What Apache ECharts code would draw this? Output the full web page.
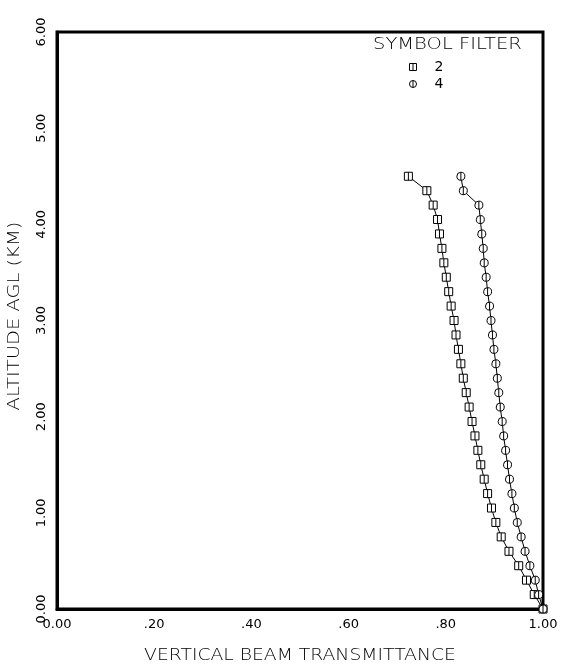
<!DOCTYPE html>
<html>
<head>
<meta charset="utf-8">
<script src="https://cdn.jsdelivr.net/npm/echarts@6/dist/echarts.min.js"></script>
<style>
html,body{margin:0;padding:0;background:#fff;}
#c{width:568px;height:666px;}
</style>
</head>
<body>
<div id="c"></div>
<script>
// Altitude levels (km), top to bottom
var altitudes = [4.5,4.35,4.2,4.05,3.9,3.75,3.6,3.45,3.3,3.15,3.0,2.85,2.7,2.55,2.4,2.25,2.1,1.95,1.8,1.65,1.5,1.35,1.2,1.05,0.9,0.75,0.6,0.45,0.3,0.15,0];
// Vertical beam transmittance, filter 2 (squares)
var filter2 = [0.723,0.761,0.774,0.783,0.787,0.792,0.796,0.801,0.806,0.811,0.817,0.821,0.826,0.831,0.836,0.842,0.848,0.854,0.860,0.866,0.872,0.879,0.886,0.894,0.903,0.914,0.930,0.950,0.966,0.982,1.0];
// Vertical beam transmittance, filter 4 (circles)
var filter4 = [0.831,0.836,0.868,0.871,0.874,0.877,0.879,0.883,0.886,0.890,0.893,0.896,0.899,0.903,0.906,0.909,0.912,0.916,0.919,0.923,0.927,0.931,0.936,0.941,0.947,0.955,0.963,0.973,0.984,0.991,1.0];
var xTickLabels = {0:'0.00',0.2:'.20',0.4:'.40',0.6:'.60',0.8:'.80',1:'1.00'};
var seriesNames = ['2','4'];
var xTitle = 'VERTICAL BEAM TRANSMITTANCE';
var yTitle = 'ALTITUDE AGL (KM)';
var legendTitle = 'SYMBOL FILTER';

var FONT = '"DejaVu Sans", sans-serif';
var TFONT = '300 15px "DejaVu Sans", sans-serif';
function pairs(xs){ return xs.map(function(v,i){ return [v, altitudes[i]]; }); }

var sqSymbol = 'path://M0,0L10,0L10,10L0,10Z M5,0L5,10';
var ciSymbol = 'path://M5,0A5,5 0 1 1 4.99,0Z M5,0L5,10';
var markStyle = {color:'#fff',borderColor:'#000',borderWidth:1};

var chart = echarts.init(document.getElementById('c'));
chart.setOption({
  animation:false,
  backgroundColor:'#fff',
  grid:{left:57,right:25,top:32,bottom:57,containLabel:false,outerBoundsMode:'none',
        show:true,borderColor:'#000',borderWidth:3,backgroundColor:'transparent'},
  xAxis:{
    type:'value',min:0,max:1,interval:0.2,
    axisLine:{show:true,lineStyle:{color:'#000',width:3}},
    axisTick:{show:false},splitLine:{show:false},
    axisLabel:{margin:9,fontFamily:FONT,fontSize:13,color:'#000',
      formatter:function(v){ var k=Math.round(v*10)/10; return xTickLabels[k]!==undefined?xTickLabels[k]:''; }}
  },
  yAxis:{
    type:'value',min:0,max:6,interval:1,
    axisLine:{show:true,lineStyle:{color:'#000',width:3}},
    axisTick:{show:false},splitLine:{show:false},
    axisLabel:{rotate:90,margin:9,fontFamily:FONT,fontSize:13,color:'#000',
      formatter:function(v){ return v.toFixed(2); }}
  },
  legend:{
    orient:'vertical',left:404,top:55,itemGap:3,itemWidth:7,itemHeight:7,
    itemStyle:markStyle,
    textStyle:{fontFamily:FONT,fontSize:14,color:'#000',padding:[0,0,0,13]},
    data:[{name:seriesNames[0],icon:sqSymbol,itemStyle:markStyle},{name:seriesNames[1],icon:ciSymbol,itemStyle:markStyle}]
  },
  graphic:[
    {type:'text',x:373,y:45,scaleX:1.3,style:{text:legendTitle,font:TFONT,fill:'#000',align:'left',verticalAlign:'middle'}},
    {type:'text',x:300,y:656,scaleX:1.25,style:{text:xTitle,font:TFONT,fill:'#000',align:'center',verticalAlign:'middle'}},
    {type:'text',x:15,y:316,rotation:Math.PI/2,scaleX:1.3,style:{text:yTitle,font:TFONT,fill:'#000',align:'center',verticalAlign:'middle'}}
  ],
  series:[
    {name:seriesNames[0],type:'line',data:pairs(filter2),symbol:sqSymbol,symbolSize:8,
     lineStyle:{color:'#000',width:1},itemStyle:markStyle},
    {name:seriesNames[1],type:'line',data:pairs(filter4),symbol:ciSymbol,symbolSize:8,
     lineStyle:{color:'#000',width:1},itemStyle:markStyle}
  ]
});
</script>
</body>
</html>
